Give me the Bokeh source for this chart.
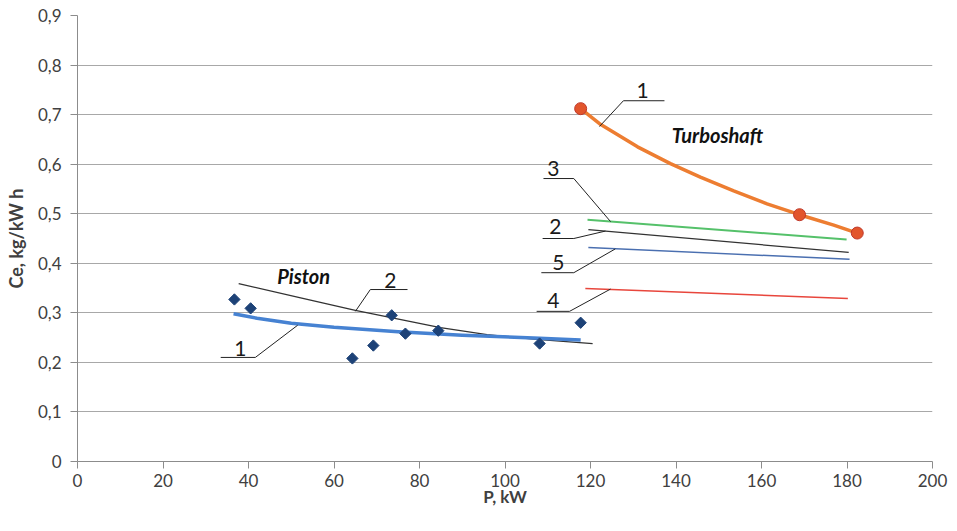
import math
from bokeh.plotting import figure
from bokeh.models import Label, FixedTicker, Range1d
from bokeh.embed import file_html
from bokeh.resources import INLINE

# ---- data ----
piston_x = [36.7, 40.5, 64.3, 69.2, 73.5, 76.7, 84.4, 108.1, 117.7]
piston_y = [0.327, 0.309, 0.208, 0.234, 0.295, 0.258, 0.264, 0.238, 0.280]

piston1_x = [36.5, 42.0, 50.0, 60.0, 75.0, 90.0, 106.7, 117.7]
piston1_y = [0.298, 0.289, 0.279, 0.271, 0.262, 0.255, 0.249, 0.245]

piston2_x = [37.7, 52.2, 65.0, 84.9, 95.8, 106.7, 120.5]
piston2_y = [0.359, 0.330, 0.305, 0.270, 0.256, 0.247, 0.238]

turbo_pts_x = [117.7, 168.9, 182.4]
turbo_pts_y = [0.712, 0.498, 0.461]
turbo1_x = [117.7, 122.4, 131.0, 138.7, 145.7, 153.5, 161.3, 168.9, 176.9, 182.4]
turbo1_y = [0.712, 0.680, 0.635, 0.601, 0.574, 0.546, 0.520, 0.498, 0.477, 0.461]

turbo3_x = [119.3, 179.9]
turbo3_y = [0.488, 0.448]
turbo2_x = [119.5, 180.4]
turbo2_y = [0.468, 0.422]
turbo5_x = [119.5, 180.6]
turbo5_y = [0.432, 0.408]
turbo4_x = [118.8, 180.2]
turbo4_y = [0.349, 0.329]

y_ticks = [0, 0.1, 0.2, 0.3, 0.4, 0.5, 0.6, 0.7, 0.8, 0.9]
y_tick_labels = ["0", "0,1", "0,2", "0,3", "0,4", "0,5", "0,6", "0,7", "0,8", "0,9"]
x_ticks = [0, 20, 40, 60, 80, 100, 120, 140, 160, 180, 200]

# callouts: (text, text_x, text_y, bar_x0, bar_x1, bar_y, tip_x, tip_y, side)
callouts = [
    ("1", 132.2, 0.749, 127.7, 137.3, 0.728, 122.1, 0.676, "left"),
    ("3", 111.3, 0.591, 109.0, 116.1, 0.571, 124.7, 0.484, "right"),
    ("2", 111.8, 0.474, 108.8, 116.1, 0.450, 123.5, 0.465, "right"),
    ("5", 112.5, 0.402, 108.5, 116.1, 0.381, 125.8, 0.429, "right"),
    ("4", 111.3, 0.325, 107.4, 115.1, 0.303, 124.7, 0.348, "right"),
    ("2", 73.2, 0.365, 68.5, 77.2, 0.347, 65.0, 0.303, "left"),
    ("1", 38.1, 0.228, 33.5, 41.6, 0.210, 51.5, 0.275, "right"),
]

FONT = "Lato"
TXT = "#404040"

p = figure(width=955, height=529, output_backend="svg", toolbar_location=None,
           x_range=Range1d(0, 200), y_range=Range1d(0, 0.9),
           min_border_left=77, min_border_right=23, min_border_top=15, min_border_bottom=68)
p.outline_line_color = None
p.background_fill_color = "white"

# axes
p.xaxis.ticker = FixedTicker(ticks=x_ticks)
p.yaxis.ticker = FixedTicker(ticks=y_ticks)
p.yaxis.major_label_overrides = {t: l for t, l in zip(y_ticks, y_tick_labels)}
for ax in (p.xaxis[0], p.yaxis[0]):
    ax.axis_line_color = "#8c8c8c"
    ax.major_tick_line_color = "#8c8c8c"
    ax.major_tick_out = 7
    ax.major_tick_in = 0
    ax.minor_tick_line_color = None
    ax.major_label_text_font = FONT
    ax.major_label_text_font_size = "17px"
    ax.major_label_text_color = TXT
    ax.axis_label_text_font = FONT
    ax.axis_label_text_font_style = "bold"
    ax.axis_label_text_color = TXT
p.xaxis.major_label_standoff = 5
p.yaxis.major_label_standoff = 9
p.yaxis.axis_label = "Ce, kg/kW h"
p.yaxis.axis_label_text_font_size = "18px"
p.yaxis.axis_label_standoff = 8
p.xaxis.axis_label = "P, kW"
p.xaxis.axis_label_text_font_size = "17px"
p.xaxis.axis_label_standoff = -4

p.xgrid.grid_line_color = None
p.ygrid.grid_line_color = "#a8a8a8"
p.ygrid.grid_line_width = 1

# turboshaft family
p.line(turbo3_x, turbo3_y, line_color="#55c16a", line_width=2)
p.line(turbo2_x, turbo2_y, line_color="#333333", line_width=1.3)
p.line(turbo5_x, turbo5_y, line_color="#4a6fb0", line_width=1.5)
p.line(turbo4_x, turbo4_y, line_color="#e8463c", line_width=1.5)
p.line(turbo1_x, turbo1_y, line_color="#ed7d31", line_width=3.5, line_join="round")
p.scatter(turbo_pts_x, turbo_pts_y, marker="circle", size=12,
          fill_color="#e2552c", line_color="#c0392b", line_width=1)

# piston family
p.line(piston2_x, piston2_y, line_color="#333333", line_width=1.3, line_join="round")
p.line(piston1_x, piston1_y, line_color="#4682d2", line_width=3.5, line_join="round")
p.scatter(piston_x, piston_y, marker="square", size=8, angle=math.pi / 4,
          fill_color="#1d4277", line_color="#1d4277")

# callouts
for txt, tx, ty, bx0, bx1, by, ex, ey, side in callouts:
    sx = bx1 if side == "right" else bx0
    p.line([bx0, bx1], [by, by], line_color="#222222", line_width=1)
    p.line([sx, ex], [by, ey], line_color="#222222", line_width=1)
    p.add_layout(Label(x=tx, y=ty, text=txt, text_font=FONT, text_font_size="21px",
                       text_color="#1a1a1a", text_align="center", text_baseline="middle"))

p.add_layout(Label(x=52.9, y=0.375, text="Piston", text_font=FONT, text_font_style="bold italic",
                   text_font_size="20px", text_color="#111111", text_align="center", text_baseline="middle"))
p.add_layout(Label(x=149.7, y=0.658, text="Turboshaft", text_font=FONT, text_font_style="bold italic",
                   text_font_size="20px", text_color="#111111", text_align="center", text_baseline="middle"))

open("out.html", "w").write(file_html(p, INLINE))
